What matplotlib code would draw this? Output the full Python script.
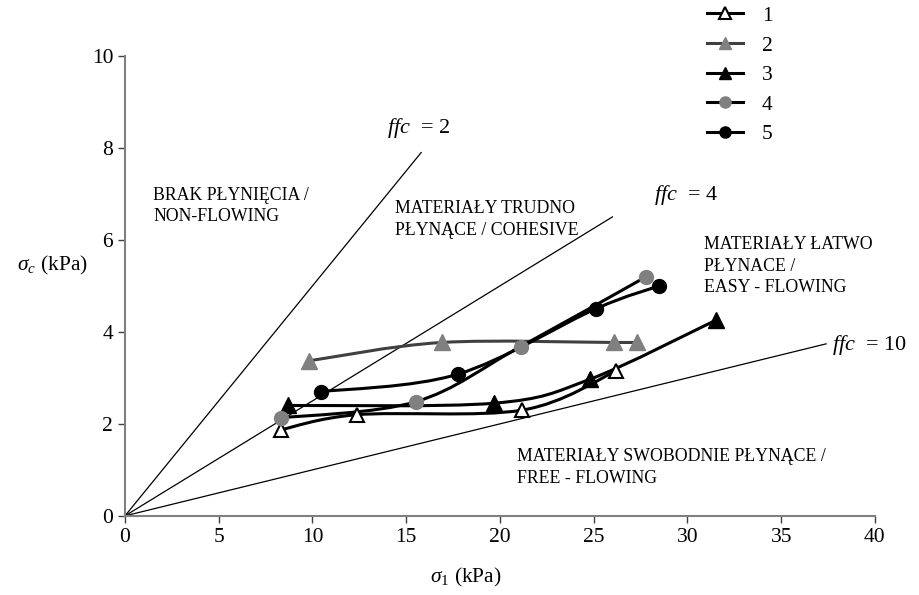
import numpy as np
import matplotlib
matplotlib.use("Agg")
import matplotlib.pyplot as plt
from matplotlib.path import Path
from matplotlib.patches import PathPatch
from matplotlib.lines import Line2D

plt.rcParams['font.family'] = ['Liberation Serif', 'DejaVu Serif']
plt.rcParams['mathtext.fontset'] = 'custom'
plt.rcParams['mathtext.rm'] = 'Liberation Serif'
plt.rcParams['mathtext.it'] = 'Liberation Serif:italic'

# series data (sigma_1, sigma_c) in kPa
s1_x = [8.3, 12.4, 21.2, 26.2]
s1_y = [1.87, 2.2, 2.3, 3.15]
s2_x = [9.8, 16.9, 26.1, 27.3]
s2_y = [3.37, 3.77, 3.77, 3.77]
s3_x = [8.7, 19.7, 24.8, 31.5]
s3_y = [2.4, 2.45, 2.97, 4.25]
s4_x = [8.3, 15.5, 21.1, 27.8]
s4_y = [2.13, 2.48, 3.68, 5.2]
s5_x = [10.45, 17.75, 25.1, 28.5]
s5_y = [2.7, 3.08, 4.5, 5.0]

labels = ['1', '2', '3', '4', '5']

# flow function lines: ffc value and sigma_1 where the line stops
ffc_vals = [2, 4, 10]
ffc_xend = [15.8, 26.0, 37.4]


def smooth_path(xs, ys):
    # excel style smoothed line: cubic bezier through the points
    p = np.column_stack([xs, ys])
    n = len(p)
    verts = [p[0]]
    codes = [Path.MOVETO]
    for i in range(n - 1):
        p0 = p[max(i - 1, 0)]
        p1 = p[i]
        p2 = p[i + 1]
        p3 = p[min(i + 2, n - 1)]
        verts += [p1 + (p2 - p0) / 6, p2 - (p3 - p1) / 6, p2]
        codes += [Path.CURVE4] * 3
    return Path(verts, codes)


fig = plt.figure(figsize=(9.19, 5.95), dpi=100)
ax = fig.add_axes([0.136, 0.133, 0.816, 0.773])

for f, xe in zip(ffc_vals, ffc_xend):
    ax.plot([0, xe], [0, xe / f], color='black', lw=0.9)

lw = 2.2
series = [
    (s1_x, s1_y, 'black', '^', 10, 'white', 'black', 1.5),
    (s2_x, s2_y, '#404040', '^', 11, '#808080', '#808080', 1),
    (s3_x, s3_y, 'black', '^', 11, 'black', 'black', 1),
    (s4_x, s4_y, 'black', 'o', 10, '#808080', '#808080', 1),
    (s5_x, s5_y, 'black', 'o', 10, 'black', 'black', 1),
]
handles = []
for (xs, ys, lc, mk, ms, mfc, mec, mew), lab in zip(series, labels):
    ax.add_patch(PathPatch(smooth_path(xs, ys), fill=False, edgecolor=lc,
                           lw=lw, capstyle='round', zorder=2))
    ax.plot(xs, ys, ls='none', marker=mk, ms=ms, mfc=mfc, mec=mec, mew=mew, zorder=3)
    handles.append(Line2D([], [], color=lc, lw=lw, marker=mk, ms=ms,
                          mfc=mfc, mec=mec, mew=mew, label=lab))

ax.set_xlim(0, 40)
ax.set_ylim(0, 10)
ax.set_xticks(np.arange(0, 41, 5))
ax.set_yticks(np.arange(0, 11, 2))
ax.tick_params(direction='out', length=5, width=1, color='#404040', labelsize=15.5)
for s in ['top', 'right']:
    ax.spines[s].set_visible(False)
for s in ['left', 'bottom']:
    ax.spines[s].set_color('#808080')
    ax.spines[s].set_linewidth(1.5)

ax.text(18.2, -1.35, r'$\sigma_\mathit{1}$ (kPa)', fontsize=15.5, ha='center', va='center')
ax.text(-2.0, 5.45, r'$\sigma_\mathit{c}$ (kPa)', fontsize=15.5, ha='right', va='center')

# ffc labels
ax.text(14.0, 8.43, r'$ffc$  = 2', fontsize=16, va='center')
ax.text(28.2, 6.98, r'$ffc$  = 4', fontsize=16, va='center')
ax.text(37.7, 3.72, r'$ffc$  = 10', fontsize=16, va='center')

# region labels
fs = 12.8
ls = 1.35
ax.text(1.5, 6.74, 'BRAK PŁYNIĘCIA /\nNON-FLOWING', fontsize=fs, va='center', linespacing=ls)
ax.text(14.4, 6.44, 'MATERIAŁY TRUDNO\nPŁYNĄCE / COHESIVE', fontsize=fs, va='center', linespacing=ls)
ax.text(30.9, 5.43, 'MATERIAŁY ŁATWO\nPŁYNACE /\nEASY - FLOWING', fontsize=fs, va='center', linespacing=ls)
ax.text(20.9, 1.05, 'MATERIAŁY SWOBODNIE PŁYNĄCE /\nFREE - FLOWING', fontsize=fs, va='center', linespacing=ls)

fig.legend(handles=handles, loc='upper left',
           bbox_to_anchor=(0.769, 0.99), frameon=False, fontsize=15.5,
           borderpad=0, borderaxespad=0, markerscale=0.8,
           handlelength=1.67, labelspacing=0.44, handletextpad=0.9)

fig.savefig('out.png', dpi=100)
